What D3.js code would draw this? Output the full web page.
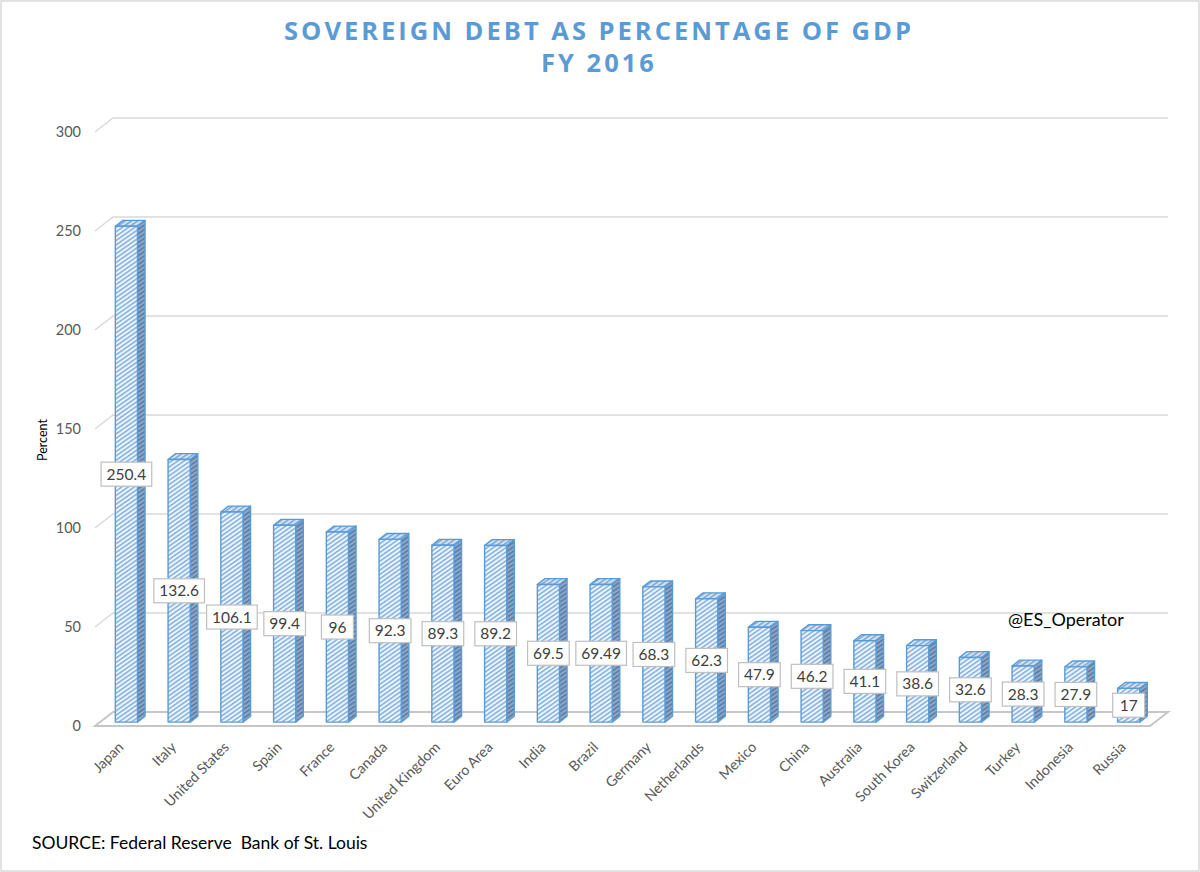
<!DOCTYPE html>
<html>
<head>
<meta charset="utf-8">
<script src="https://cdn.jsdelivr.net/npm/d3@7"></script>
<style>
  body { margin: 0; background: #fff; }
  svg { display: block; }
</style>
</head>
<body>
<div id="chart"></div>
<script>
// data
const countries = ["Japan", "Italy", "United States", "Spain", "France", "Canada",
  "United Kingdom", "Euro Area", "India", "Brazil", "Germany", "Netherlands",
  "Mexico", "China", "Australia", "South Korea", "Switzerland", "Turkey",
  "Indonesia", "Russia"];
const debtPct = [250.4, 132.6, 106.1, 99.4, 96, 92.3, 89.3, 89.2, 69.5, 69.49,
  68.3, 62.3, 47.9, 46.2, 41.1, 38.6, 32.6, 28.3, 27.9, 17];
const yTicks = [0, 50, 100, 150, 200, 250, 300];
const titleLines = ["SOVEREIGN DEBT AS PERCENTAGE OF GDP", "FY 2016"];

const width = 1200, height = 872;
const depthX = 18, depthY = 14;   // front-to-back offset of the 3d box
const barZ0 = 0.28, barZ1 = 0.7;   // where the bars sit inside the depth

let svg = d3.select("#chart").append("svg")
  .attr("width", width)
  .attr("height", height);

// hatch patterns for the bar faces
let defs = svg.append("defs");
function hatch(id, bg, fg, t) {
  let p = defs.append("pattern")
    .attr("id", id)
    .attr("patternUnits", "userSpaceOnUse")
    .attr("width", 8).attr("height", 3.6)
    .attr("patternTransform", "rotate(-35)");
  p.append("rect").attr("width", 8).attr("height", 3.6).attr("fill", bg);
  p.append("rect").attr("width", 8).attr("height", t).attr("fill", fg);
}
hatch("hFront", "#eef5fc", "#7eaee0", 1.5);
hatch("hSide", "#8ea8c8", "#5b7aa2", 1.6);
hatch("hTop", "#d3e3f4", "#6fa3d6", 1.4);

let x = d3.scaleBand()
  .domain(countries)
  .range([95, 1150])
  .paddingInner(0.58)
  .paddingOuter(0.29);
let y = d3.scaleLinear().domain([0, 300]).range([726, 132]);

// project a (x, value, depth) point onto the page
function proj(px, v, z) {
  return [px + z * depthX, y(v) - z * depthY];
}
function poly(pts) {
  return "M" + pts.map(p => p.join(",")).join("L") + "Z";
}

// outer border
svg.append("rect")
  .attr("x", 1).attr("y", 1)
  .attr("width", width - 2).attr("height", height - 2)
  .attr("fill", "none").attr("stroke", "#d9d9d9").attr("stroke-width", 1.5);

// title
svg.append("g").selectAll("text")
  .data(titleLines)
  .enter().append("text")
  .attr("x", 599)
  .attr("y", (d, i) => 40 + i * 32)
  .attr("text-anchor", "middle")
  .attr("font-family", "Open Sans")
  .attr("font-weight", "bold")
  .attr("font-size", 25.5)
  .attr("letter-spacing", 3)
  .attr("fill", "#5b9bd5")
  .text(d => d);

let x0 = x.range()[0], x1 = x.range()[1];

// back wall gridlines + diagonal on the side wall
let grid = svg.append("g")
  .attr("stroke", "#d9d9d9")
  .attr("stroke-width", 1.5)
  .attr("fill", "none");
grid.selectAll(".back")
  .data(yTicks.filter(t => t > 0))
  .enter().append("path")
  .attr("d", t => "M" + proj(x0, t, 0).join(",") + "L" + proj(x0, t, 1).join(",") +
    "L" + proj(x1, t, 1).join(","));

// floor
svg.append("path")
  .attr("d", poly([proj(x0, 0, 0), proj(x0, 0, 1), proj(x1, 0, 1), proj(x1, 0, 0)]))
  .attr("fill", "#fff")
  .attr("stroke", "#c6c6c6")
  .attr("stroke-width", 2);

// y axis tick labels
svg.append("g").selectAll("text")
  .data(yTicks)
  .enter().append("text")
  .attr("x", 81)
  .attr("y", d => y(d))
  .attr("dy", "0.35em")
  .attr("text-anchor", "end")
  .attr("font-family", "Lato")
  .attr("font-size", 14.5)
  .attr("fill", "#595959")
  .text(d => d);

svg.append("text")
  .attr("transform", "translate(47,440) rotate(-90)")
  .attr("text-anchor", "middle")
  .attr("font-family", "Lato")
  .attr("font-size", 12.5)
  .attr("fill", "#000")
  .text("Percent");

// bars
let bw = x.bandwidth();
let bars = svg.append("g").selectAll("g")
  .data(countries)
  .enter().append("g");

bars.each(function(c, i) {
  let g = d3.select(this);
  let v = debtPct[i];
  let L = x(c), R = x(c) + bw;
  // right side face
  g.append("path")
    .attr("d", poly([proj(R, 0, barZ0), proj(R, 0, barZ1), proj(R, v, barZ1), proj(R, v, barZ0)]))
    .attr("fill", "url(#hSide)");
  // top face
  g.append("path")
    .attr("d", poly([proj(L, v, barZ0), proj(L, v, barZ1), proj(R, v, barZ1), proj(R, v, barZ0)]))
    .attr("fill", "url(#hTop)");
  // front face
  g.append("path")
    .attr("d", poly([proj(L, 0, barZ0), proj(L, v, barZ0), proj(R, v, barZ0), proj(R, 0, barZ0)]))
    .attr("fill", "url(#hFront)");
  g.selectAll("path")
    .attr("stroke", "#5b9bd5")
    .attr("stroke-width", 1.4)
    .attr("stroke-linejoin", "round");
});

// value labels in white boxes, centred on the front face
let labels = svg.append("g").selectAll("g")
  .data(countries)
  .enter().append("g")
  .attr("transform", (c, i) => {
    let p = proj(x(c) + bw / 2, debtPct[i] / 2, barZ0);
    return "translate(" + p[0] + "," + p[1] + ")";
  });
labels.append("rect");
labels.append("text")
  .attr("text-anchor", "middle")
  .attr("dy", "0.36em")
  .attr("font-family", "Lato")
  .attr("font-size", 15.5)
  .attr("fill", "#404040")
  .text((c, i) => debtPct[i]);
labels.each(function() {
  let g = d3.select(this);
  let tw = g.select("text").node().getComputedTextLength();
  let w = Math.max(tw + 11, 32);
  g.select("rect")
    .attr("x", -w / 2).attr("y", -12)
    .attr("width", w).attr("height", 24)
    .attr("fill", "#fff")
    .attr("stroke", "#bfbfbf")
    .attr("stroke-width", 1.2);
});

// category labels, rotated
svg.append("g").selectAll("text")
  .data(countries)
  .enter().append("text")
  .attr("transform", c => "translate(" + (x(c) + bw / 2 - 4) + ",741) rotate(-45)")
  .attr("text-anchor", "end")
  .attr("dy", "0.7em")
  .attr("font-family", "Lato")
  .attr("font-size", 14.3)
  .attr("fill", "#595959")
  .text(c => c);

svg.append("text")
  .attr("x", 1008).attr("y", 626)
  .attr("font-family", "Lato")
  .attr("font-size", 18)
  .attr("fill", "#000")
  .text("@ES_Operator");

svg.append("text")
  .attr("x", 32).attr("y", 849)
  .attr("font-family", "Lato")
  .attr("font-size", 17.5)
  .attr("fill", "#000")
  .attr("xml:space", "preserve")
  .text("SOURCE: Federal Reserve  Bank of St. Louis");
</script>
</body>
</html>
